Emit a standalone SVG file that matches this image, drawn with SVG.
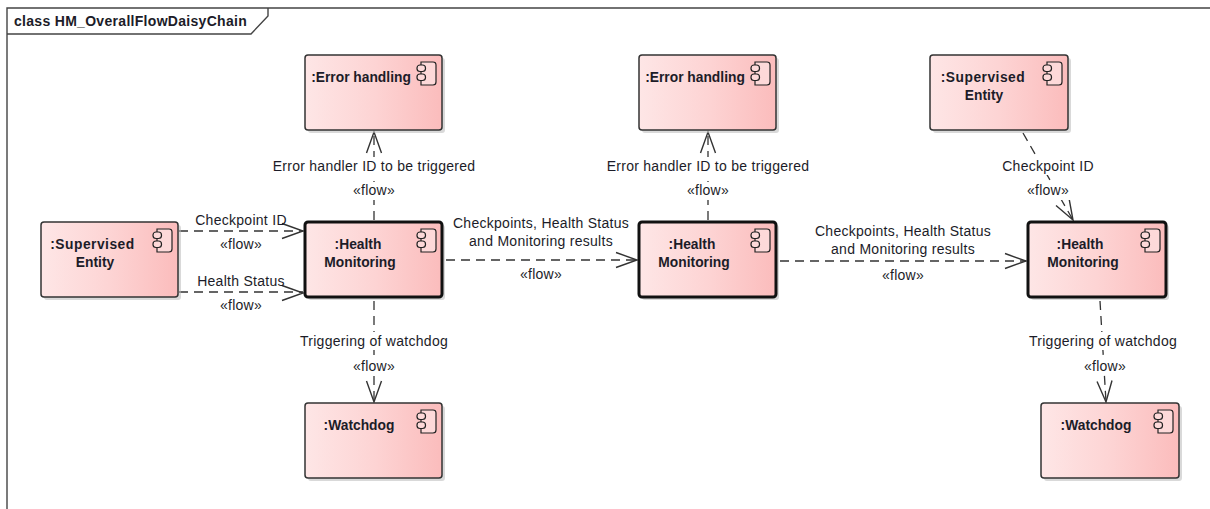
<svg xmlns="http://www.w3.org/2000/svg" width="1210" height="509" viewBox="0 0 1210 509">
<style>
text{font-family:"Liberation Sans",Arial,sans-serif;fill:#1c1c28;transform:translate(0,.7px)}
.n{font-size:13.8px;font-weight:bold;text-anchor:middle}
.w{letter-spacing:.5px}
.l{font-size:14px;letter-spacing:.28px;text-anchor:middle}
.m{fill:#fff}
.b{fill:url(#g);stroke:#333;stroke-width:1.5}
.t{fill:url(#g);stroke:#111;stroke-width:3}
.s{fill:#b9b9b9;opacity:.55}
.c{fill:none;stroke:#333;stroke-width:1.3;stroke-dasharray:9 6}
.a{fill:none;stroke:#333;stroke-width:1.4}
.i{fill:#fdd9d9;stroke:#222;stroke-width:1.2}
.f{fill:none;stroke:#444;stroke-width:1.4}
</style>
<defs>
<linearGradient id="g"><stop offset="0" stop-color="#fee6e6"/><stop offset=".5" stop-color="#fdd4d4"/><stop offset="1" stop-color="#fbbcbc"/></linearGradient>
<g id="ic"><path class="i" d="M-15 0H-3Q0 0 0 3V20Q0 23 -3 23H-15V0Z"/><rect class="i" x="-19" y="3" width="8.500" height="6.500" rx="3"/><rect class="i" x="-19" y="12" width="8.500" height="6.500" rx="3"/></g>
<path id="ah" class="a" d="M-21 -7.500 L0 0 L-21 7.500"/>
</defs>
<rect width="1210" height="509" fill="#fff"/>
<g id="frame">
<path class="f" d="M7 509V8H1210"/>
<path class="f" d="M7 34H251L268 16V8"/>
<text x="14" y="25" style="font-size:14px;font-weight:bold;letter-spacing:.3px">class HM_OverallFlowDaisyChain</text>
</g>
<g id="connectors">
<path class="c" d="M179 231H303"/><use href="#ah" x="303" y="231"/>
<path class="c" d="M179 292H303"/><use href="#ah" x="303" y="293"/>
<path class="c" d="M374 220V132"/><use href="#ah" transform="translate(374 132) rotate(-90)"/>
<path class="c" d="M374 301V402"/><use href="#ah" transform="translate(374 402) rotate(90)"/>
<path class="c" d="M446 260H637"/><use href="#ah" x="637" y="260"/>
<path class="c" d="M708 220V132"/><use href="#ah" transform="translate(708 132) rotate(-90)"/>
<path class="c" d="M780 261H1026"/><use href="#ah" x="1026" y="261"/>
<path class="c" d="M1023 133L1073 220"/><use href="#ah" transform="translate(1073 220) rotate(60)"/>
<path class="c" d="M1100 301L1106 402"/><use href="#ah" transform="translate(1106 402) rotate(86)"/>
</g>
<g id="labels">
<rect class="m" x="272" y="157" width="204" height="18"/><rect class="m" x="352" y="182" width="44" height="18"/>
<rect class="m" x="298" y="332" width="152" height="18"/><rect class="m" x="352" y="357" width="44" height="18"/>
<rect class="m" x="606" y="157" width="204" height="18"/><rect class="m" x="686" y="182" width="44" height="18"/>
<rect class="m" x="1002" y="157" width="92" height="18"/><rect class="m" x="1026" y="182" width="44" height="18"/>
<rect class="m" x="1028" y="332" width="152" height="18"/><rect class="m" x="1083" y="357" width="44" height="18"/>
<text class="l" x="241" y="224">Checkpoint ID</text><text class="l" x="241" y="248">«flow»</text>
<text class="l" x="241" y="285">Health Status</text><text class="l" x="241" y="309">«flow»</text>
<text class="l" x="374" y="170">Error handler ID to be triggered</text><text class="l" x="374" y="194">«flow»</text>
<text class="l" x="374" y="345">Triggering of watchdog</text><text class="l" x="374" y="370">«flow»</text>
<text class="l" x="541" y="227">Checkpoints, Health Status</text><text class="l" x="541" y="245">and Monitoring results</text><text class="l" x="541" y="278">«flow»</text>
<text class="l" x="708" y="170">Error handler ID to be triggered</text><text class="l" x="708" y="194">«flow»</text>
<text class="l" x="903" y="235">Checkpoints, Health Status</text><text class="l" x="903" y="253">and Monitoring results</text><text class="l" x="903" y="279">«flow»</text>
<text class="l" x="1048" y="170">Checkpoint ID</text><text class="l" x="1048" y="194">«flow»</text>
<text class="l" x="1103" y="345">Triggering of watchdog</text><text class="l" x="1105" y="370">«flow»</text>
</g>
<g id="error1"><rect class="s" x="308" y="58" width="137" height="75" rx="3"/><rect class="b" x="305" y="55" width="137" height="75" rx="3"/><use href="#ic" x="436" y="62"/><text class="n" x="361" y="81">:Error handling</text></g>
<g id="supervised1"><rect class="s" x="44" y="225" width="137" height="75" rx="3"/><rect class="b" x="41" y="222" width="137" height="75" rx="3"/><use href="#ic" x="172" y="229"/><text class="n w" x="92.500" y="248">:Supervised</text><text class="n" x="95" y="266">Entity</text></g>
<g id="hm1"><rect class="s" x="308" y="225" width="137" height="75" rx="3"/><rect class="t" x="305" y="222" width="137" height="75" rx="3"/><use href="#ic" x="436" y="229"/><text class="n" x="358" y="248">:Health</text><text class="n" x="360" y="266">Monitoring</text></g>
<g id="watchdog1"><rect class="s" x="308" y="406" width="137" height="75" rx="3"/><rect class="b" x="305" y="403" width="137" height="75" rx="3"/><use href="#ic" x="436" y="410"/><text class="n" x="359" y="429">:Watchdog</text></g>
<g id="error2"><rect class="s" x="642" y="58" width="137" height="75" rx="3"/><rect class="b" x="639" y="55" width="137" height="75" rx="3"/><use href="#ic" x="770" y="62"/><text class="n" x="695" y="81">:Error handling</text></g>
<g id="hm2"><rect class="s" x="642" y="225" width="137" height="75" rx="3"/><rect class="t" x="639" y="222" width="137" height="75" rx="3"/><use href="#ic" x="770" y="229"/><text class="n" x="692" y="248">:Health</text><text class="n" x="694" y="266">Monitoring</text></g>
<g id="supervised2"><rect class="s" x="933" y="58" width="138" height="75" rx="3"/><rect class="b" x="930" y="55" width="138" height="75" rx="3"/><use href="#ic" x="1062" y="62"/><text class="n w" x="983" y="81">:Supervised</text><text class="n" x="984" y="99">Entity</text></g>
<g id="hm3"><rect class="s" x="1031" y="225" width="138" height="75" rx="3"/><rect class="t" x="1028" y="222" width="138" height="75" rx="3"/><use href="#ic" x="1160" y="229"/><text class="n" x="1080" y="248">:Health</text><text class="n" x="1083" y="266">Monitoring</text></g>
<g id="watchdog2"><rect class="s" x="1044" y="406" width="138" height="75" rx="3"/><rect class="b" x="1041" y="403" width="138" height="75" rx="3"/><use href="#ic" x="1173" y="410"/><text class="n" x="1096" y="429">:Watchdog</text></g>
</svg>
